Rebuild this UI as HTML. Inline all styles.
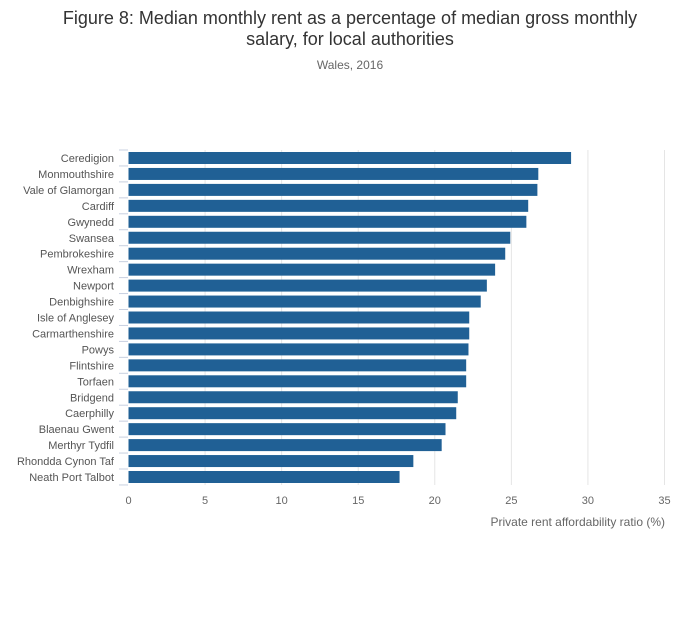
<!DOCTYPE html>
<html><head><meta charset="utf-8"><style>
body{margin:0;background:#fff;font-family:"Liberation Sans",sans-serif;}
</style></head><body>
<svg id="chart" width="700" height="635" xmlns="http://www.w3.org/2000/svg" style="display:block">
<text x="350" y="24" text-anchor="middle" font-size="18" fill="#333">Figure 8: Median monthly rent as a percentage of median gross monthly</text>
<text x="350" y="45" text-anchor="middle" font-size="18" fill="#333">salary, for local authorities</text>
<text x="350" y="69" text-anchor="middle" font-size="12" fill="#666">Wales, 2016</text>
<g id="grid"></g><g id="bars"></g><g id="ylabels"></g><g id="xlabels"></g>
<text x="665" y="526" text-anchor="end" font-size="12" fill="#666">Private rent affordability ratio (%)</text>
</svg>
<script>
const categories=["Ceredigion","Monmouthshire","Vale of Glamorgan","Cardiff","Gwynedd","Swansea","Pembrokeshire","Wrexham","Newport","Denbighshire","Isle of Anglesey","Carmarthenshire","Powys","Flintshire","Torfaen","Bridgend","Caerphilly","Blaenau Gwent","Merthyr Tydfil","Rhondda Cynon Taf","Neath Port Talbot"];
const values=[28.9,26.76,26.7,26.1,25.98,24.93,24.6,23.94,23.4,23.0,22.25,22.25,22.2,22.05,22.05,21.5,21.4,20.7,20.45,18.6,17.7];
const xTicks=[0,5,10,15,20,25,30,35];
const NS="http://www.w3.org/2000/svg";
const x0=128.5,x1=664.5,xMax=35;
const xs=v=>x0+(v/xMax)*(x1-x0);
const plotTop=150,band=15.95;
const ys=i=>plotTop+i*band;
function mk(t,a){const e=document.createElementNS(NS,t);for(const k in a)e.setAttribute(k,a[k]);return e;}
const grid=document.getElementById('grid'),bars=document.getElementById('bars'),yl=document.getElementById('ylabels'),xl=document.getElementById('xlabels');
const bottom=ys(categories.length);
xTicks.forEach(t=>{
 if(t>0){const g=mk('line',{x1:xs(t),x2:xs(t),y1:plotTop,y2:bottom,stroke:'#e5e5e5','stroke-width':1});
 
 
 grid.appendChild(g);}
 const tx=mk('text',{x:xs(t),y:504,'text-anchor':'middle','font-size':11,fill:'#666'});
 tx.textContent=t;
 
 
 xl.appendChild(tx);
});
for(let i=0;i<=categories.length;i++){
 const tk=mk('line',{x1:119,x2:128,y1:ys(i),y2:ys(i),stroke:'#c8d0e0','stroke-width':1});
 
 
 grid.appendChild(tk);
}
categories.forEach((c,i)=>{
 const r=mk('rect',{x:xs(0),y:ys(i)+2,width:xs(values[i])-xs(0),height:12,fill:'#206095'});
 
 
 bars.appendChild(r);
 const t=mk('text',{x:114,y:ys(i)+12,'text-anchor':'end','font-size':11,fill:'#555'});
 t.textContent=c;
 
 
 yl.appendChild(t);
});
</script>
</body></html>
